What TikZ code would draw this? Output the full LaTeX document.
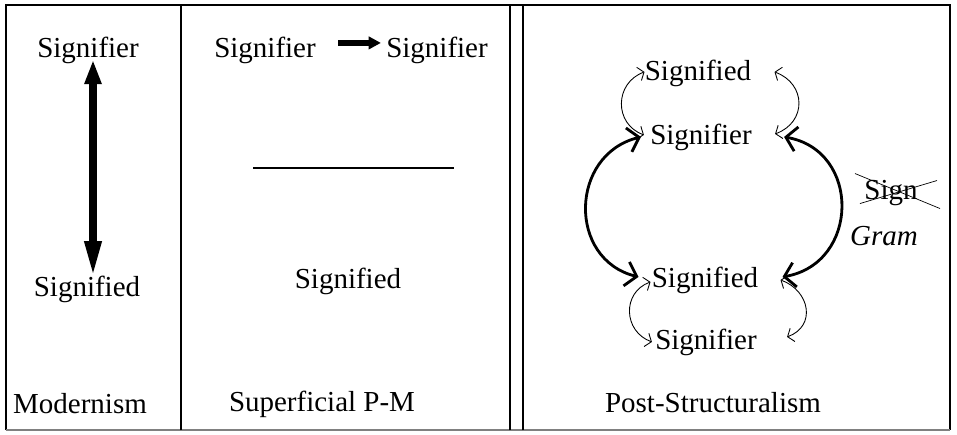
\documentclass[tikz,border=0pt]{standalone}
\usepackage{fontspec}
\setmainfont{Liberation Serif}
\usetikzlibrary{arrows.meta,calc}
\begin{document}
\begin{tikzpicture}[x=0.02cm, y=0.02cm,
  lbl/.style={anchor=base, inner sep=0pt, font=\fontsize{16.5}{19}\selectfont},
  frame/.style={line width=1.4pt},
  bigarc/.style={line width=1.6pt, {Straight Barb[length=6pt,width=14pt]}-{Straight Barb[length=6pt,width=14pt]}},
  smallarc/.style={line width=0.5pt, {Straight Barb[length=3pt,width=8pt]}-{Straight Barb[length=3pt,width=8pt]}}]
  \useasboundingbox (0,0) rectangle (957,434);
  \draw[frame] (6,4) -- (6,429) -- (950,429) -- (950,4);
  \draw[gray, line width=1pt] (6,4) -- (950,4);
  \draw[frame] (181,4) -- (181,429);
  \draw[frame] (510,4) -- (510,429) (523,4) -- (523,429);
  % Modernism
  \node[lbl] (sr1) at (88,377) {Signifier};
  \node[lbl] (sd1) at (87,138) {Signified};
  \node[lbl] (mod) at (80,21) {Modernism};
  \draw[line width=4pt, {Triangle[width=9pt,length=14pt]}-{Triangle[width=9pt,length=20pt]}] ($(sr1.south)+(5,4)$) -- ($(sd1.north)+(6,-1)$);
  % Superficial P-M
  \node[lbl] (sr2a) at (265,377) {Signifier};
  \node[lbl] (sr2b) at (437,377) {Signifier};
  \node[lbl] (sd2) at (348,146) {Signified};
  \node[lbl] (spm) at (322,23) {Superficial P-M};
  \draw[line width=3pt, -{Triangle[width=7pt,length=7pt]}] ($(sr2a.east)+(22,7)$) -- ($(sr2b.west)+(-5,7)$);
  \draw[line width=1.5pt] (253,266) -- (454,266);
  % Post-Structuralism
  \node[lbl] (sdtop) at (698,354) {Signified};
  \node[lbl] (srtop) at (701,290) {Signifier};
  \node[lbl] (sdbot) at (705,147) {Signified};
  \node[lbl] (srbot) at (706,85) {Signifier};
  \node[lbl] (sign) at (891,235) {Sign};
  \node[lbl] (gram) at (884,189) {\itshape Gram};
  \node[lbl] (post) at (713,22) {Post-Structuralism};
  \draw[thin] ($(sign.center)+(-36,19)$) -- ($(sign.center)+(49,-16)$);
  \draw[thin] ($(sign.center)+(-31,-11)$) -- ($(sign.center)+(46,12)$);
  \draw[bigarc] ($(srtop.west)+(-9,0)$) to[out=194, in=166, looseness=1.34] ($(sdbot.west)+(-13,3)$);
  \draw[bigarc] ($(srtop.east)+(32,0)$) to[out=-10, in=10, looseness=1.43] ($(sdbot.east)+(24,3)$);
  \draw[smallarc] ($(sdtop.west)+(0,1)$) to[out=200, in=160, looseness=1.3] ($(srtop.west)+(-6,2)$);
  \draw[smallarc] ($(sdtop.east)+(23,1)$) to[out=-20, in=20, looseness=1.4] ($(srtop.east)+(23,3)$);
  \draw[smallarc] ($(sdbot.west)+(-1,-2)$) to[out=200, in=160, looseness=1.3] ($(srbot.west)+(-3,0)$);
  \draw[smallarc] ($(sdbot.east)+(22,0)$) to[out=-20, in=20, looseness=1.4] ($(srbot.east)+(30,5)$);
\end{tikzpicture}
\end{document}
